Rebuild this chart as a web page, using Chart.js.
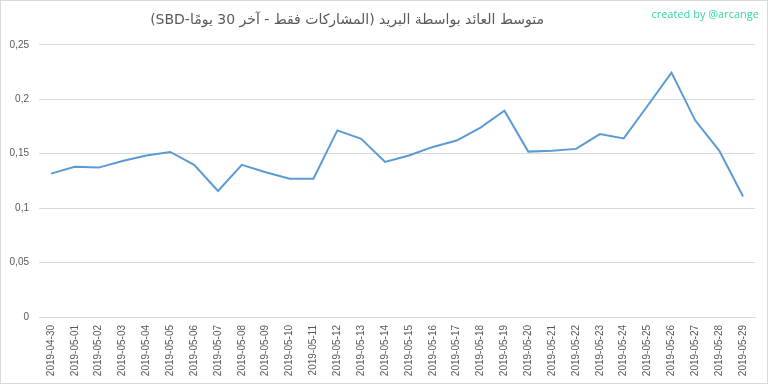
<!DOCTYPE html>
<html>
<head>
<meta charset="utf-8">
<script src="https://cdn.jsdelivr.net/npm/chart.js@4/dist/chart.umd.min.js"></script>
<style>
  body { margin: 0; background: #fff; }
  .wrap { position: relative; width: 768px; height: 384px; box-sizing: border-box; border: 1px solid #d9d9d9; }
  .credit { position: absolute; right: 8px; top: 5px; font: 11px "Open Sans", sans-serif; color: #35d6a6; }
</style>
</head>
<body>
<div class="wrap">
  <canvas id="chart" width="766" height="382"></canvas>
  <div class="credit">created by @arcange</div>
</div>
<script>
const title = 'متوسط العائد بواسطة البريد (المشاركات فقط - آخر 30 يومًا-SBD)'

const dates = ['2019-04-30','2019-05-01','2019-05-02','2019-05-03','2019-05-04','2019-05-05','2019-05-06','2019-05-07',
    '2019-05-08','2019-05-09','2019-05-10','2019-05-11','2019-05-12','2019-05-13','2019-05-14','2019-05-15',
    '2019-05-16','2019-05-17','2019-05-18','2019-05-19','2019-05-20','2019-05-21','2019-05-22','2019-05-23',
    '2019-05-24','2019-05-25','2019-05-26','2019-05-27','2019-05-28','2019-05-29']

const payout = [0.1317, 0.1379, 0.1372, 0.1432, 0.1484, 0.1516, 0.1398, 0.1158,
    0.1398, 0.1330, 0.1270, 0.1270, 0.1714, 0.1637, 0.1425, 0.1484,
    0.1562, 0.1621, 0.1739, 0.1894, 0.1519, 0.1528, 0.1544, 0.1680,
    0.1640, 0.1940, 0.2245, 0.1804, 0.1528, 0.1106]

const yTicks = [0, 0.05, 0.1, 0.15, 0.2, 0.25]

const grey = '#595959'
const grid = '#d9d9d9'

// canvas text direction is rtl only while the arabic title is drawn,
// and the title box is narrowed so it sits a little left of centre
const rtlTitle = {
    id: 'rtlTitle',
    afterLayout(c) { c.titleBlock.right -= 62 },
    beforeDraw(c) { c.ctx.direction = 'rtl' },
    afterDatasetsDraw(c) { c.ctx.direction = 'ltr' }
}

let graph = document.querySelector('#chart').getContext('2d')

new Chart(graph, {
    type: 'line',
    data: {
        labels: dates,
        datasets: [
            {
                label: 'SBD',
                data: payout,
                borderColor: '#5b9bd5',
                backgroundColor: 'transparent',
                borderWidth: 2,
                pointRadius: 0,
                tension: 0,
            }
        ]
    },
    options: {
        responsive: false,
        animation: false,
        layout: {
            padding: { left: 0, right: 12, top: 0, bottom: 0 }
        },
        plugins: {
            legend: { display: false },
            tooltip: { enabled: false },
            title: {
                display: true,
                text: title,
                color: grey,
                font: { family: '"DejaVu Sans", sans-serif', size: 14, weight: 'normal' },
                padding: { top: 11, bottom: 16 },
            }
        },
        scales: {
            x: {
                offset: true,
                grid: { display: false, drawTicks: false },
                border: { display: true, color: grid },
                ticks: {
                    color: grey,
                    font: { family: 'Liberation Sans', size: 10 },
                    maxRotation: 90,
                    minRotation: 90,
                    autoSkip: false,
                    padding: 8,
                },
                afterFit: s => { s.height = 66 }
            },
            y: {
                min: 0,
                max: 0.25,
                afterBuildTicks: s => { s.ticks = yTicks.map(v => ({ value: v })) },
                grid: { color: grid, drawTicks: false },
                border: { display: false },
                ticks: {
                    color: grey,
                    font: { family: 'Liberation Sans', size: 10 },
                    padding: 10,
                    callback: v => String(v).replace('.', ',')
                },
                afterFit: s => { s.width = 38 }
            }
        }
    },
    plugins: [rtlTitle]
})
</script>
</body>
</html>
